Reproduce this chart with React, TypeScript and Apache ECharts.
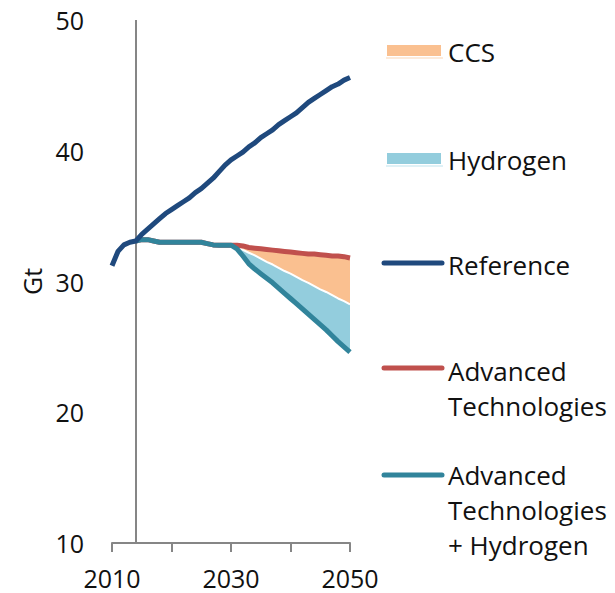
import React, { useEffect, useRef } from "react";
import * as echarts from "echarts";

const FONT = "'Open Sans', 'Noto Sans', sans-serif";

// x positions: one per year
const years: number[] = Array.from({ length: 41 }, (_, i) => 2010 + i);

// Reference scenario, 2010..2050
const referenceValues = [
  31.2, 32.3, 32.8, 33.0, 33.1, 33.6, 34.0, 34.4, 34.8, 35.2,
  35.5, 35.8, 36.1, 36.4, 36.8, 37.1, 37.5, 37.9, 38.4, 38.9,
  39.3, 39.6, 39.9, 40.3, 40.6, 41.0, 41.3, 41.6, 42.0, 42.3,
  42.6, 42.9, 43.3, 43.7, 44.0, 44.3, 44.6, 44.9, 45.1, 45.4,
  45.6,
];

// Common path of both advanced scenarios, 2014..2029
const sharedStart = 2014;
const sharedValues = [
  33.1, 33.2, 33.2, 33.1, 33.0, 33.0, 33.0, 33.0, 33.0, 33.0,
  33.0, 33.0, 32.9, 32.8, 32.78, 32.78,
];

// 2030..2050
const projStart = 2030;
const advancedValues = [
  32.78, 32.78, 32.72, 32.6, 32.55, 32.5, 32.45, 32.4, 32.35, 32.3,
  32.25, 32.2, 32.15, 32.1, 32.1, 32.05, 32.0, 31.95, 31.95, 31.9,
  31.8,
];
const advancedHydrogenValues = [
  32.78, 32.5, 31.95, 31.35, 30.95, 30.6, 30.25, 29.9, 29.5, 29.1,
  28.7, 28.3, 27.9, 27.5, 27.1, 26.7, 26.3, 25.85, 25.4, 25.0,
  24.6,
];
// upper edge of the hydrogen wedge (= lower edge of the CCS wedge)
const hydrogenTopValues = [
  32.78, 32.65, 32.42, 32.2, 32.0, 31.75, 31.5, 31.3, 31.05, 30.8,
  30.6, 30.35, 30.1, 29.9, 29.65, 29.4, 29.2, 28.95, 28.7, 28.5,
  28.25,
];

const xTickLabels = [2010, 2030, 2050];

const C_REF = "#1f497d";
const C_ADV = "#c0504d";
const C_ADVH = "#31849b";
const C_CCS = "#fac090";
const C_H2 = "#93cddd";
const C_AXIS = "#868686";

export default function App() {
  const ref = useRef<HTMLDivElement>(null);

  useEffect(() => {
    if (!ref.current) return;
    const chart = echarts.init(ref.current, undefined, { renderer: "svg" });

    const refData = years.map((y, i) => [y, referenceValues[i]]);
    const pre = sharedValues.map((v, i) => [sharedStart + i, v]);
    const advProj = advancedValues.map((v, i) => [projStart + i, v]);
    const advHProj = advancedHydrogenValues.map((v, i) => [projStart + i, v]);
    const h2Top = hydrogenTopValues.map((v, i) => [projStart + i, v]);
    const advData = pre.concat(advProj);
    const advHData = pre.concat(advHProj);

    const legendLine = (y: number, color: string) => ({
      type: "line",
      shape: { x1: 384, y1: y, x2: 442, y2: y },
      style: { stroke: color, lineWidth: 5, lineCap: "round" },
    });
    const legendSwatch = (y: number, color: string, pale: string) => [
      { type: "rect", shape: { x: 387, y, width: 54, height: 11 }, style: { fill: color } },
      { type: "line", shape: { x1: 386, y1: y + 13, x2: 443, y2: y + 13 }, style: { stroke: pale, lineWidth: 1.5 } },
    ];
    const legendText = (y: number, text: string) => ({
      type: "text",
      x: 448,
      y,
      style: {
        text,
        fill: "#111",
        font: `26px ${FONT}`,
        lineHeight: 35,
        verticalAlign: "middle",
        align: "left",
      },
    });

    chart.setOption({
      animation: false,
      backgroundColor: "#ffffff",
      grid: { left: 112, right: 265, top: 20, bottom: 50 },
      xAxis: {
        type: "value",
        min: 2010,
        max: 2050,
        interval: 10,
        z: 10,
        axisLine: { show: true, lineStyle: { color: C_AXIS, width: 2 } },
        axisTick: { show: true, inside: false, length: 9, lineStyle: { color: C_AXIS, width: 2 } },
        splitLine: { show: false },
        axisLabel: {
          margin: 22,
          fontSize: 25,
          fontFamily: FONT,
          color: "#111",
          formatter: (v: number) => (xTickLabels.includes(v) ? String(v) : ""),
        },
      },
      yAxis: {
        type: "value",
        min: 10,
        max: 50,
        interval: 10,
        name: "Gt",
        nameLocation: "middle",
        nameGap: 68,
        nameRotate: 90,
        nameTextStyle: { fontSize: 25, fontFamily: FONT, color: "#111" },
        axisLine: { show: false },
        axisTick: { show: false },
        splitLine: { show: false },
        axisLabel: { margin: 28, fontSize: 25, fontFamily: FONT, color: "#111" },
      },
      series: [
        {
          name: "CCS",
          type: "line",
          data: advProj,
          symbol: "none",
          silent: true,
          lineStyle: { opacity: 0 },
          areaStyle: { color: C_CCS, opacity: 1, origin: "start" },
          z: 1,
          markLine: {
            silent: true,
            symbol: "none",
            label: { show: false },
            lineStyle: { color: C_AXIS, width: 2, type: "solid" },
            data: [{ xAxis: 2014 }],
          },
        },
        {
          name: "Hydrogen",
          type: "line",
          data: h2Top,
          symbol: "none",
          silent: true,
          lineStyle: { color: "#ffffff", width: 2 },
          areaStyle: { color: C_H2, opacity: 1, origin: "start" },
          z: 2,
        },
        {
          name: "mask",
          type: "line",
          data: advHProj,
          symbol: "none",
          silent: true,
          lineStyle: { opacity: 0 },
          areaStyle: { color: "#ffffff", opacity: 1, origin: "start" },
          z: 3,
        },
        {
          name: "Advanced Technologies",
          type: "line",
          data: advData,
          symbol: "none",
          lineStyle: { color: C_ADV, width: 5 },
          z: 4,
        },
        {
          name: "Advanced Technologies + Hydrogen",
          type: "line",
          data: advHData,
          symbol: "none",
          lineStyle: { color: C_ADVH, width: 5 },
          z: 5,
        },
        {
          name: "Reference",
          type: "line",
          data: refData,
          symbol: "none",
          lineStyle: { color: C_REF, width: 5 },
          z: 6,
        },
      ],
      graphic: [
        ...legendSwatch(45, C_CCS, "#fde3cd"),
        legendText(52, "CCS"),
        ...legendSwatch(153, C_H2, "#d4ecf3"),
        legendText(160, "Hydrogen"),
        legendLine(263, C_REF),
        legendText(265, "Reference"),
        legendLine(368, C_ADV),
        legendText(388, "Advanced\nTechnologies"),
        legendLine(475, C_ADVH),
        legendText(510, "Advanced\nTechnologies\n+ Hydrogen"),
      ],
    });

    return () => chart.dispose();
  }, []);

  return (
    <div
      ref={ref}
      style={{ position: "absolute", left: 0, top: 0, width: 615, height: 593 }}
    />
  );
}
